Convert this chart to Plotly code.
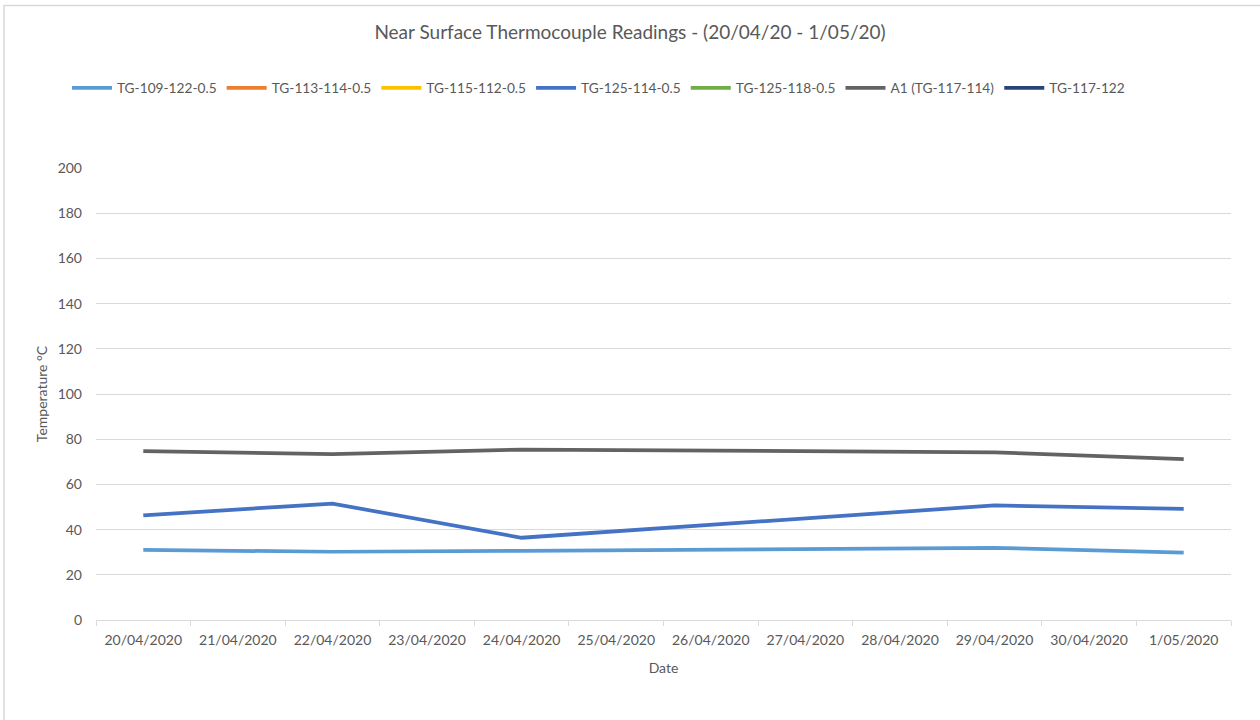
import plotly.graph_objects as go

dates = ["20/04/2020", "21/04/2020", "22/04/2020", "23/04/2020", "24/04/2020",
         "25/04/2020", "26/04/2020", "27/04/2020", "28/04/2020", "29/04/2020",
         "30/04/2020", "1/05/2020"]

tg_109_122 = [31.0, None, 30.2, None, 30.6, None, None, None, None, 31.9, None, 29.8]
tg_113_114 = [None] * 12
tg_115_112 = [None] * 12
tg_125_114 = [46.3, None, 51.5, None, 36.4, None, None, None, None, 50.7, None, 49.2]
tg_125_118 = [None] * 12
a1_117_114 = [74.7, None, 73.4, None, 75.4, None, None, None, None, 74.2, None, 71.2]
tg_117_122 = [None] * 12

series = [
    ("TG-109-122-0.5", tg_109_122, "#5B9BD5"),
    ("TG-113-114-0.5", tg_113_114, "#ED7D31"),
    ("TG-115-112-0.5", tg_115_112, "#FFC000"),
    ("TG-125-114-0.5", tg_125_114, "#4472C4"),
    ("TG-125-118-0.5", tg_125_118, "#70AD47"),
    ("A1 (TG-117-114)", a1_117_114, "#636363"),
    ("TG-117-122", tg_117_122, "#264478"),
]

y_ticks = [0, 20, 40, 60, 80, 100, 120, 140, 160, 180, 200]

fig = go.Figure()
for name, vals, color in series:
    fig.add_trace(go.Scatter(
        x=dates, y=vals, name=name, mode="lines",
        line=dict(color=color, width=3.75),
        connectgaps=True, showlegend=True,
    ))

font_family = "Lato, 'Open Sans', sans-serif"
text_color = "#595959"

fig.update_layout(
    width=1260, height=720,
    paper_bgcolor="white", plot_bgcolor="white",
    margin=dict(l=96, r=29, t=168, b=100),
    font=dict(family=font_family, size=14, color=text_color),
    title=dict(text="Near Surface Thermocouple Readings - (20/04/20 - 1/05/20)",
               x=0.5, xanchor="center", y=1 - 32 / 720, yanchor="middle",
               font=dict(size=19, color=text_color, family=font_family)),
    legend=dict(orientation="h", x=0.4427, xanchor="center",
                y=1.177, yanchor="middle",
                font=dict(size=13.7, color=text_color),
                itemwidth=40, tracegroupgap=0,
                bgcolor="rgba(0,0,0,0)"),
    xaxis=dict(
        type="category", categoryorder="array", categoryarray=dates,
        range=[-0.5, len(dates) - 0.5],
        tickmode="array", tickvals=dates, ticktext=dates,
        showgrid=False, showline=True, linecolor="#d9d9d9", linewidth=1,
        ticks="outside", tickson="boundaries", ticklen=5, tickcolor="#d9d9d9",
        tickangle=0, ticklabelstandoff=7,
        tickfont=dict(size=14, color=text_color),
        title=dict(text="Date", font=dict(size=14, color=text_color), standoff=16),
        zeroline=False,
    ),
    yaxis=dict(
        range=[0, 200], tickmode="array", tickvals=y_ticks,
        showgrid=True, gridcolor="#d9d9d9", gridwidth=1,
        showline=False, zeroline=False, ticks="",
        ticklabelstandoff=13,
        tickfont=dict(size=14, color=text_color),
        title=dict(text="Temperature °C", font=dict(size=14, color=text_color), standoff=6),
    ),
    shapes=[dict(type="rect", xref="paper", yref="paper",
                 x0=(4 - 96) / 1135, x1=(1262 - 96) / 1135,
                 y0=(620 - 722) / 452, y1=(620 - 5.5) / 452,
                 line=dict(color="#d9d9d9", width=1.5), layer="below")],
)

fig.write_html("out.html",
               config={"displayModeBar": False},
               post_script="document.body.style.margin='0px';document.body.style.overflow='hidden';")
